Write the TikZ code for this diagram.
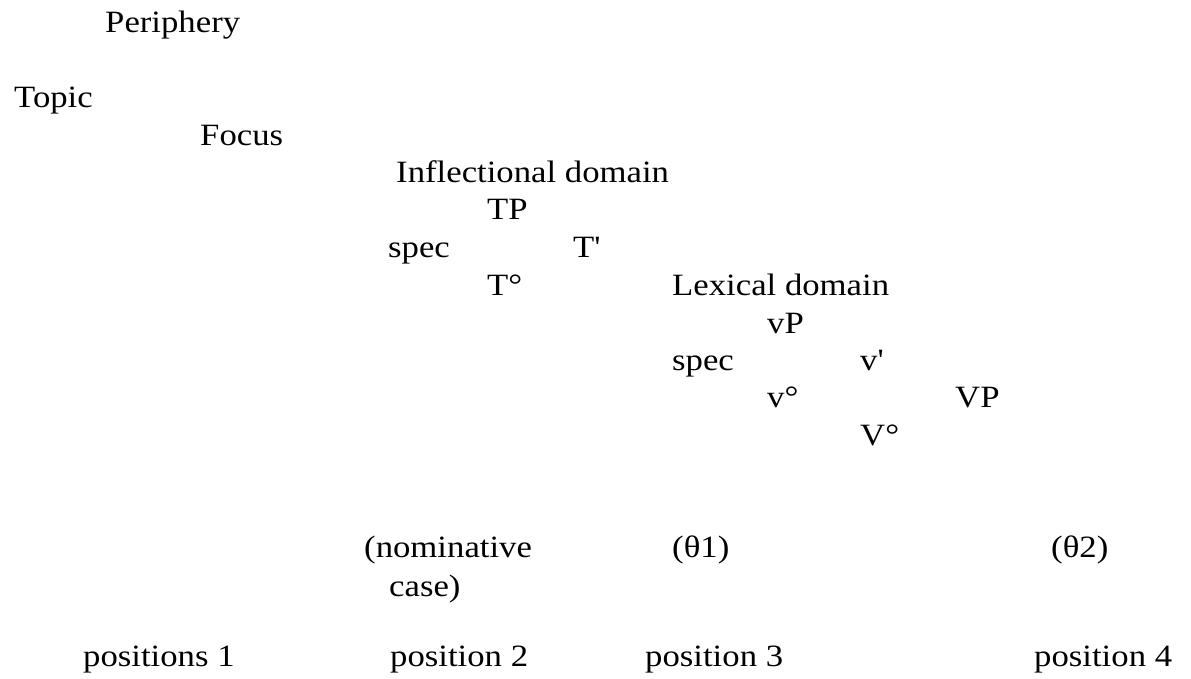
\documentclass[tikz,border=0pt]{standalone}
\usepackage{fontspec}
\setmainfont{Liberation Serif}[FakeStretch=1.12]
\begin{document}
\begin{tikzpicture}[x=1pt,y=-1pt,
  lbl/.style={anchor=base west,inner sep=0pt,font=\fontsize{31}{36}\selectfont}]
\useasboundingbox (0,0) rectangle (1191,679);
% outer layers
\node[lbl] (periphery) at (105,33) {Periphery};
\node[lbl] (topic) at (14,108) {Topic};
\node[lbl] (focus) at (200,146) {Focus};
% inflectional domain
\node[lbl] (infl) at (396,183) {Inflectional domain};
\node[lbl] (tp) at (487,220) {TP};
\node[lbl] (specT) at (388,258) {spec};
\node[lbl] (tbar) at (573,258) {T\textquotesingle};
\node[lbl] (thead) at (487,295) {T°};
% lexical domain
\node[lbl] (lex) at (672,295) {Lexical domain};
\node[lbl] (vp) at (767,333) {vP};
\node[lbl] (specv) at (672,370) {spec};
\node[lbl] (vbar) at (860,370) {v\textquotesingle};
\node[lbl] (vhead) at (767,407) {v°};
\node[lbl] (VP) at (955,407) {VP};
\node[lbl] (Vhead) at (860,445) {V°};
% case and theta roles
\node[lbl] (nom) at (364,557) {(nominative};
\node[lbl] (case) at (389,596) {case)};
\node[lbl] (th1) at (672,557) {(θ1)};
\node[lbl] (th2) at (1051,557) {(θ2)};
% positions
\node[lbl] (pos1) at (83,666) {positions 1};
\node[lbl] (pos2) at (390,666) {position 2};
\node[lbl] (pos3) at (645,666) {position 3};
\node[lbl] (pos4) at (1034,666) {position 4};
\end{tikzpicture}
\end{document}
